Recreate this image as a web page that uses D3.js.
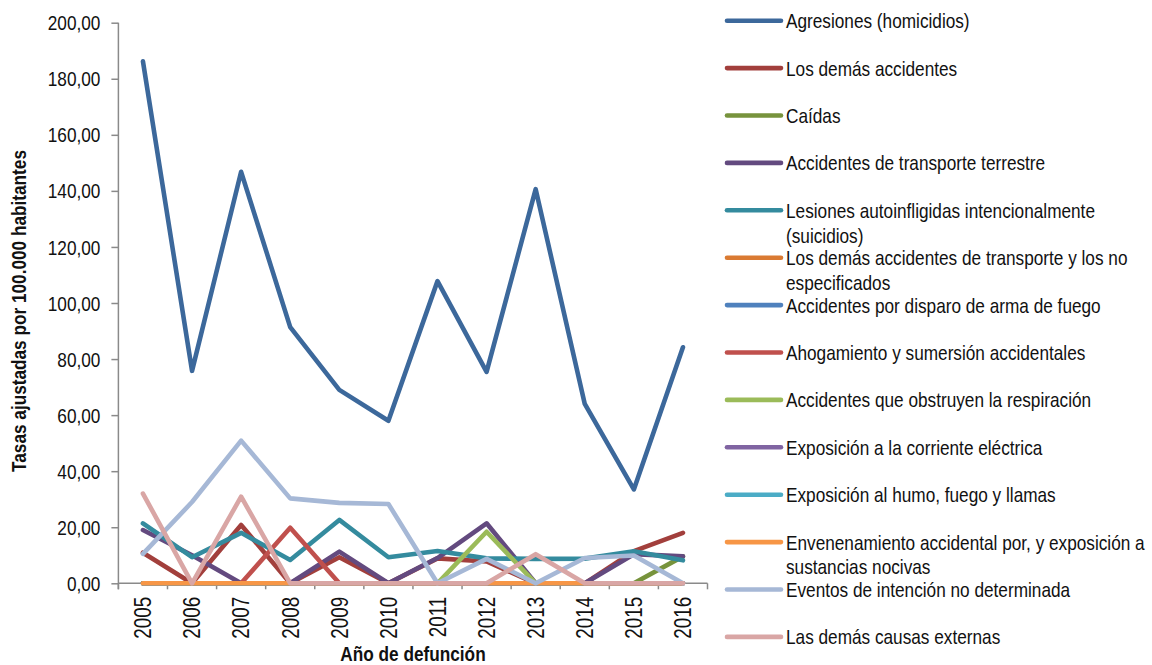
<!DOCTYPE html>
<html>
<head>
<meta charset="utf-8">
<script src="https://cdn.jsdelivr.net/npm/d3@7"></script>
<style>
  html, body { margin: 0; padding: 0; background: #fff; }
  svg { display: block; }
  text { font-family: "Liberation Sans", Arial, sans-serif; fill: #111; }
</style>
</head>
<body>
<svg id="chart" width="1152" height="665"></svg>
<script>
// Años de defunción
const years = ["2005","2006","2007","2008","2009","2010","2011","2012","2013","2014","2015","2016"];

// Tasas ajustadas por 100.000 habitantes, por causa
const agresiones          = [186.2, 75.8, 146.8, 91.4, 69.0, 58.0, 107.8, 75.4, 140.6, 64.0, 33.5, 84.2];
const demasAccidentes     = [10.9, 0, 20.8, 0, 9.3, 0, 8.9, 7.8, 0, 0, 11.5, 18.0];
const caidas              = [0, 0, 0, 0, 0, 0, 0, 0, 0, 0, 0, 9.6];
const transporteTerrestre = [19.0, 10.0, 0, 0, 11.3, 0, 9.0, 21.4, 0, 0, 10.4, 9.6];
const lesionesAuto        = [21.4, 9.3, 18.0, 8.3, 22.6, 9.3, 11.5, 8.9, 8.7, 8.8, 11.4, 8.2];
const demasTransporte     = [0, 0, 0, 0, 0, 0, 0, 0, 0, 0, 0, 0];
const disparoArma         = [0, 0, 0, 0, 0, 0, 0, 0, 0, 0, 0, 0];
const ahogamiento         = [0, 0, 0, 19.8, 0, 0, 0, 0, 0, 0, 0, 0];
const obstruyenResp       = [0, 0, 0, 0, 0, 0, 0, 18.4, 0, 0, 0, 0];
const corrienteElectrica  = [0, 0, 0, 0, 0, 0, 0, 0, 0, 0, 0, 0];
const humoFuego           = [0, 0, 0, 0, 0, 0, 0, 0, 0, 0, 0, 0];
const envenenamiento      = [0, 0, 0, 0, 0, 0, 0, 0, 0, 0, 0, 0];
const eventosIntencion    = [10.5, 29.0, 50.9, 30.3, 28.7, 28.3, 0, 8.7, 0, 9.0, 9.9, 0];
const demasCausas         = [32.0, 0, 30.9, 0, 0, 0, 0, 0, 10.4, 0, 0, 0];

const yTicks = [0, 20, 40, 60, 80, 100, 120, 140, 160, 180, 200];

const series = [
  { name: ["Agresiones (homicidios)"], values: agresiones, color: "#3C689B" },
  { name: ["Los demás accidentes"], values: demasAccidentes, color: "#A23F3C" },
  { name: ["Caídas"], values: caidas, color: "#77933C" },
  { name: ["Accidentes de transporte terrestre"], values: transporteTerrestre, color: "#634A7F" },
  { name: ["Lesiones autoinfligidas intencionalmente", "(suicidios)"], values: lesionesAuto, color: "#348B9E" },
  { name: ["Los demás accidentes de transporte y los no", "especificados"], values: demasTransporte, color: "#DA7A32" },
  { name: ["Accidentes por disparo de arma de fuego"], values: disparoArma, color: "#4F81BD" },
  { name: ["Ahogamiento y sumersión accidentales"], values: ahogamiento, color: "#C0504D" },
  { name: ["Accidentes que obstruyen la respiración"], values: obstruyenResp, color: "#9BBB59" },
  { name: ["Exposición a la corriente eléctrica"], values: corrienteElectrica, color: "#8064A2" },
  { name: ["Exposición al humo, fuego y llamas"], values: humoFuego, color: "#4BACC6" },
  { name: ["Envenenamiento accidental por, y exposición a", "sustancias nocivas"], values: envenenamiento, color: "#F79646" },
  { name: ["Eventos de intención no determinada"], values: eventosIntencion, color: "#A6B8D6" },
  { name: ["Las demás causas externas"], values: demasCausas, color: "#D9A6A5" }
];

const svg = d3.select("#chart");
const axisColor = "#8A8A8A";
const NARROW = 0.82; // condensed type, as in a narrow sans face

const plot = { left: 118.4, right: 707.5, top: 22.7, bottom: 583.3 };

const x = d3.scaleBand().domain(years).range([plot.left, plot.right]);
const y = d3.scaleLinear().domain([0, 200]).range([plot.bottom, plot.top]);
const cx = d => x(d) + x.bandwidth() / 2;

// Condensed text placed at (px, py), optionally rotated
function narrowText(parent, px, py, str, opt = {}) {
  const rot = opt.rotate ? ` rotate(${opt.rotate})` : "";
  return parent.append("text")
    .attr("transform", `translate(${px},${py})${rot} scale(${NARROW},1)`)
    .attr("text-anchor", opt.anchor || "start")
    .attr("dy", opt.dy || null)
    .style("font-size", (opt.size || 21) + "px")
    .style("font-weight", opt.bold ? "bold" : null)
    .text(str);
}

// Eje Y
const yAxis = svg.append("g")
  .attr("transform", `translate(${plot.left},0)`)
  .call(d3.axisLeft(y).tickValues(yTicks).tickSize(7).tickFormat(""));
yAxis.select(".domain").remove();
yAxis.append("line")
  .attr("x1", 0).attr("x2", 0)
  .attr("y1", plot.top).attr("y2", plot.bottom + 6)
  .attr("stroke", axisColor).attr("stroke-width", 1.5);
yAxis.selectAll(".tick line").attr("stroke", axisColor).attr("stroke-width", 1.5);
const yLabels = svg.append("g");
yTicks.forEach(v => {
  narrowText(yLabels, plot.left - 18, y(v), d3.format(".2f")(v).replace(".", ","),
    { anchor: "end", dy: "0.36em" });
});

// Eje X
const xAxis = svg.append("g").attr("transform", `translate(0,${plot.bottom})`);
xAxis.append("line")
  .attr("x1", plot.left).attr("x2", plot.right)
  .attr("y1", 0).attr("y2", 0)
  .attr("stroke", axisColor).attr("stroke-width", 1.5);
const boundaries = years.map(d => x(d)).concat([plot.right]);
xAxis.selectAll("line.xtick").data(boundaries).enter().append("line")
  .attr("class", "xtick")
  .attr("x1", d => d).attr("x2", d => d)
  .attr("y1", 0).attr("y2", 6)
  .attr("stroke", axisColor).attr("stroke-width", 1.5);
years.forEach(d => {
  narrowText(xAxis, cx(d), 13.5, d, { rotate: -90, anchor: "end", dy: "0.36em", size: 23 });
});

// Títulos de ejes
narrowText(svg, 26, 311, "Tasas ajustadas por 100.000 habitantes",
  { rotate: -90, anchor: "middle", bold: true });
narrowText(svg, 413, 661, "Año de defunción", { anchor: "middle", bold: true });

// Líneas de las series
const line = d3.line()
  .x((v, i) => cx(years[i]))
  .y(v => y(v));

svg.append("g").selectAll("path").data(series).enter().append("path")
  .attr("d", s => line(s.values))
  .attr("fill", "none")
  .attr("stroke", s => s.color)
  .attr("stroke-width", 4.6)
  .attr("stroke-linejoin", "round")
  .attr("stroke-linecap", "round");

// Leyenda
const legend = svg.append("g");
const legendTop = 20.7, legendStep = 47.4;
series.forEach((s, i) => {
  const g = legend.append("g").attr("transform", `translate(0,${legendTop + i * legendStep})`);
  g.append("line")
    .attr("x1", 727).attr("x2", 781)
    .attr("y1", 0).attr("y2", 0)
    .attr("stroke", s.color)
    .attr("stroke-width", 4.6)
    .attr("stroke-linecap", "round");
  s.name.forEach((t, j) => narrowText(g, 786, 7.5 + j * 24.7, t));
});
</script>
</body>
</html>
